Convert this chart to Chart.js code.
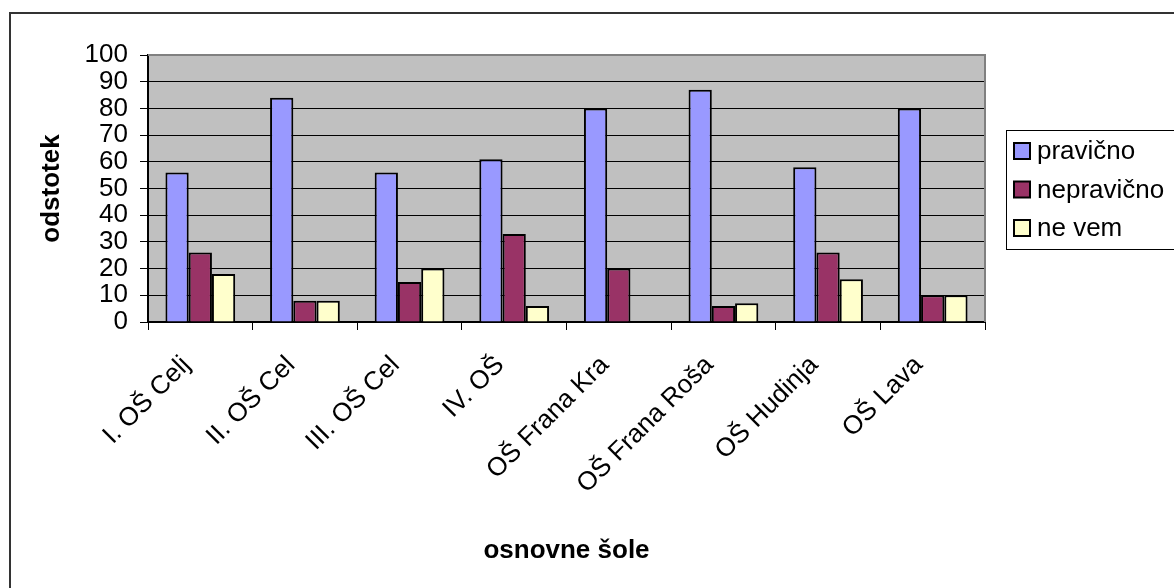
<!DOCTYPE html>
<html>
<head>
<meta charset="utf-8">
<script src="https://cdn.jsdelivr.net/npm/chart.js@4/dist/chart.umd.min.js"></script>
<style>
  html, body { margin: 0; padding: 0; background: #fff; overflow: hidden; }
  #wrap { position: relative; width: 1174px; height: 588px; }
  #frame { position: absolute; left: 9px; top: 12px; width: 1200px; height: 600px; border: 2px solid #333; box-sizing: border-box; pointer-events: none; }
  canvas { position: absolute; left: 0; top: 0; }
</style>
</head>
<body>
<div id="wrap">
  <canvas id="chart" width="1174" height="588"></canvas>
  <div id="frame"></div>
</div>
<script>
const schools = ['I. OŠ Celj', 'II. OŠ Cel', 'III. OŠ Cel', 'IV. OŠ', 'OŠ Frana Kra', 'OŠ Frana Roša', 'OŠ Hudinja', 'OŠ Lava'];
const pravicno = [56, 84, 56, 61, 80, 87, 58, 80];
const nepravicno = [26, 8, 15, 33, 20, 6, 26, 10];
const neVem = [18, 8, 20, 6, null, 7, 16, 10];
const seriesNames = ['pravično', 'nepravično', 'ne vem'];
const seriesColors = ['#9999FF', '#993366', '#FFFFCC'];

const FONT = 'Arial, "Liberation Sans", sans-serif';
const FS = 26;

// grey plot background + border, and the boxed legend on the right
const excelLook = {
  id: 'excelLook',
  beforeDraw(chart) {
    const { ctx, chartArea: a } = chart;
    ctx.save();
    ctx.fillStyle = '#C0C0C0';
    ctx.fillRect(a.left, a.top, a.right - a.left, a.bottom - a.top);
    ctx.restore();
  },
  afterDraw(chart) {
    const { ctx, chartArea: a } = chart;
    ctx.save();
    ctx.strokeStyle = '#808080';
    ctx.lineWidth = 2;
    ctx.beginPath();
    ctx.moveTo(a.left, a.top);
    ctx.lineTo(a.right, a.top);
    ctx.lineTo(a.right, a.bottom);
    ctx.stroke();

    // legend
    const lx = 1006, ly = 130, lw = 180, lh = 119;
    ctx.strokeStyle = '#000';
    ctx.lineWidth = 1;
    ctx.strokeRect(lx + 0.5, ly + 0.5, lw, lh);
    ctx.font = FS + 'px ' + FONT;
    ctx.textBaseline = 'middle';
    chart.data.datasets.forEach((ds, i) => {
      const cy = 151 + i * 38.5;
      ctx.fillStyle = ds.backgroundColor;
      ctx.fillRect(lx + 8, cy - 8, 16, 16);
      ctx.lineWidth = 2;
      ctx.strokeStyle = '#000';
      ctx.strokeRect(lx + 8, cy - 8, 16, 16);
      ctx.fillStyle = '#000';
      ctx.fillText(ds.label, lx + 31, cy + 1);
    });
    ctx.restore();
  }
};

new Chart(document.getElementById('chart'), {
  type: 'bar',
  data: {
    labels: schools,
    datasets: [pravicno, nepravicno, neVem].map((d, i) => ({
      label: seriesNames[i],
      data: d,
      backgroundColor: seriesColors[i],
      borderColor: '#000',
      borderWidth: 2,
      borderSkipped: 'bottom',
      categoryPercentage: 3 / 4.5,
      barPercentage: 1.0
    }))
  },
  options: {
    responsive: false,
    animation: false,
    layout: { padding: { left: 30, right: 189, top: 55, bottom: 22 } },
    plugins: {
      legend: { display: false },
      tooltip: { enabled: false }
    },
    scales: {
      x: {
        afterFit(scale) { scale.height = 588 - 22 - 55 - 267; },
        grid: { drawOnChartArea: false, drawTicks: true, tickLength: 8, color: '#000', offset: true },
        border: { color: '#000', width: 2 },
        ticks: {
          color: '#000',
          font: { family: FONT, size: FS },
          minRotation: 45,
          maxRotation: 45,
          autoSkip: false,
          padding: 20,
          labelOffset: -14
        },
        title: {
          display: true,
          text: 'osnovne šole',
          color: '#000',
          font: { family: FONT, size: FS, weight: 'bold' },
          padding: { top: 0, bottom: 0 }
        }
      },
      y: {
        min: 0,
        max: 100,
        afterFit(scale) { scale.width = 118; },
        grid: { color: '#000', lineWidth: 1, drawTicks: true, tickLength: 8, tickColor: '#000' },
        border: { color: '#000', width: 2 },
        ticks: {
          stepSize: 10,
          autoSkip: false,
          color: '#000',
          font: { family: FONT, size: FS },
          padding: 12
        },
        title: {
          display: true,
          text: 'odstotek',
          color: '#000',
          font: { family: FONT, size: FS, weight: 'bold' },
          padding: { top: 6, bottom: 0 }
        }
      }
    }
  },
  plugins: [excelLook]
});
</script>
</body>
</html>
